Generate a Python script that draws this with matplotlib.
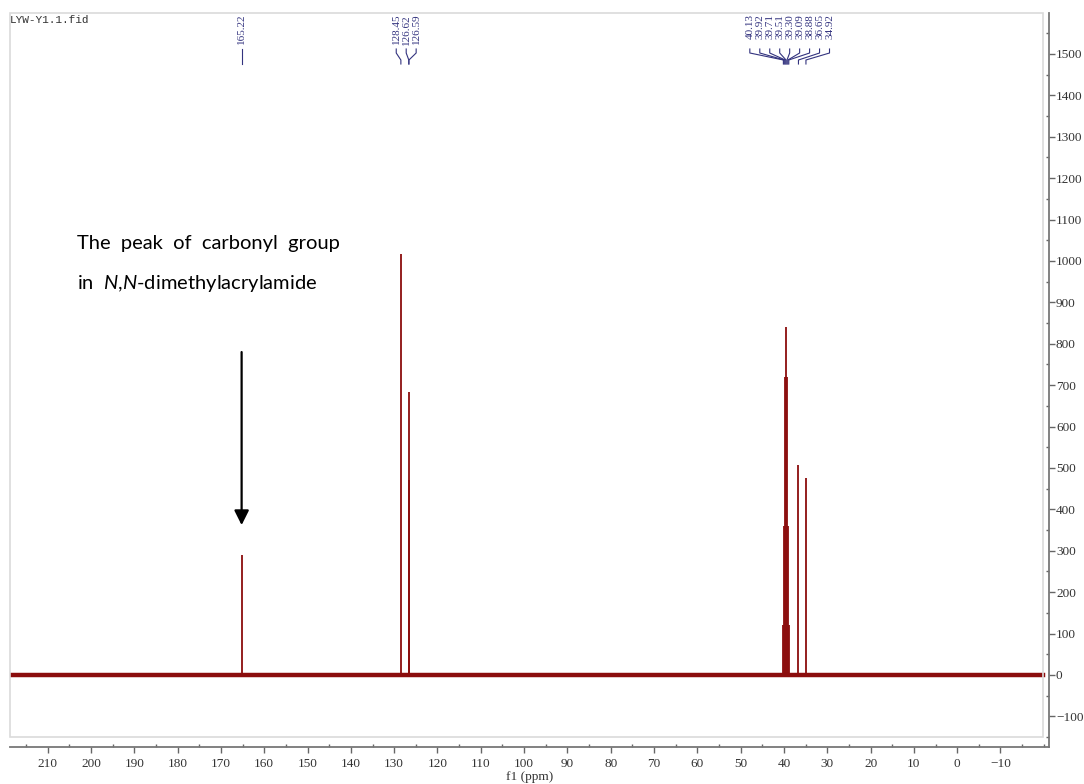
import matplotlib
matplotlib.use('Agg')
import matplotlib.pyplot as plt
from matplotlib.patches import Rectangle
from matplotlib.lines import Line2D
from matplotlib.transforms import blended_transform_factory
from matplotlib.ticker import MultipleLocator

# 13C spectrum peaks (ppm, intensity)
peak_ppm = [165.22, 128.45, 126.62, 126.59, 40.13, 39.92, 39.71, 39.51,
            39.30, 39.09, 38.88, 36.65, 34.92]
peak_height = [290, 1017, 470, 683, 120, 360, 720, 840, 720, 360, 120, 507, 476]

# peak-pick label groups
label_groups = [[165.22],
                [128.45, 126.62, 126.59],
                [40.13, 39.92, 39.71, 39.51, 39.30, 39.09, 38.88, 36.65, 34.92]]

x_ticks = list(range(210, -20, -10))
y_ticks = list(range(-100, 1600, 100))

W, H = 1084, 784
spec_col = '#8b0d0d'
lab_col = '#33337f'
tick_font = 'Liberation Serif'


def fpos(x0, y0, x1, y1):
    return [x0 / W, 1 - y1 / H, (x1 - x0) / W, (y1 - y0) / H]


fig = plt.figure(figsize=(W / 100, H / 100), dpi=100)
fig.patch.set_facecolor('white')

# light frame around the spectrum area
fig.patches.append(Rectangle((10 / W, 1 - 737 / H), (1043 - 10) / W, (737 - 13) / H,
                             transform=fig.transFigure, fill=False,
                             edgecolor='#dadada', lw=1.2, zorder=0))

ax = fig.add_axes(fpos(10, 13, 1049, 747))
ax.patch.set_visible(False)
ax.set_xlim(218.7, -21.2)
ax.set_ylim(-174, 1599)

# baseline + peaks
ax.axhline(0, xmin=0, xmax=(1043 - 10) / (1049 - 10), color=spec_col, lw=3.2, zorder=2)
ax.vlines(peak_ppm, 0, peak_height, color=spec_col, lw=1.3, zorder=3)

for s in ['left', 'top']:
    ax.spines[s].set_visible(False)
for s in ['bottom', 'right']:
    ax.spines[s].set_color('#777777')
    ax.spines[s].set_linewidth(1.3)

ax.set_xticks(x_ticks)
ax.set_xticklabels([str(t).replace('-', '\u2212') for t in x_ticks])
ax.xaxis.set_minor_locator(MultipleLocator(5))
ax.yaxis.tick_right()
ax.set_yticks(y_ticks)
ax.set_yticklabels([str(t).replace('-', '\u2212') for t in y_ticks])
ax.yaxis.set_minor_locator(MultipleLocator(50))
ax.tick_params(axis='x', which='major', direction='out', length=4, width=1,
               color='#666666', pad=4, labelsize=9.5, labelcolor='#333333')
ax.tick_params(axis='x', which='minor', direction='in', length=2, width=1, color='#666666')
ax.tick_params(axis='y', which='major', direction='out', length=4, width=1,
               color='#666666', pad=1, labelsize=9.5, labelcolor='#333333')
ax.tick_params(axis='y', which='minor', direction='in', length=2, width=1, color='#666666')
for lab in ax.get_xticklabels() + ax.get_yticklabels():
    lab.set_family(tick_font)

fig.text(530 / W, 1 - 777 / H, 'f1 (ppm)', ha='center', va='center',
         family=tick_font, fontsize=9.5, color='#333333')
fig.text(10 / W, 1 - 20 / H, 'LYW-Y1.1.fid', ha='left', va='center',
         family='Liberation Mono', fontsize=8, color='#333333')

# peak labels along the top with connector lines
tr = blended_transform_factory(ax.transData, fig.transFigure)
spacing = 2.3
for grp in label_groups:
    n = len(grp)
    c = sum(grp) / n
    for i, p in enumerate(grp):
        lx = c + spacing * ((n - 1) / 2 - i)
        ax.text(lx, 1 - 14 / H, '%.2f' % p, rotation=90, ha='center', va='top',
                fontsize=8, family=tick_font, color=lab_col, transform=tr)
        ys = [1 - 49 / H, 1 - 53 / H, 1 - 60 / H, 1 - 64 / H]
        ax.add_line(Line2D([lx, lx, p, p], ys, transform=tr, color=lab_col,
                           lw=0.8, clip_on=False))

# annotation for the carbonyl peak
plt.rcParams['mathtext.fontset'] = 'custom'
plt.rcParams['mathtext.it'] = 'Lato:italic'
plt.rcParams['mathtext.rm'] = 'Lato'
fig.text(77 / W, 1 - 244 / H, 'The  peak  of  carbonyl  group', ha='left', va='center',
         family='Lato', fontsize=14.5, color='black')
fig.text(77 / W, 1 - 283 / H, r'in  $\mathit{N}$,$\mathit{N}$-dimethylacrylamide', ha='left',
         va='center', family='Lato', fontsize=14.5, color='black')
ax.annotate('', xy=(peak_ppm[0], 362), xytext=(peak_ppm[0], 780),
            arrowprops=dict(arrowstyle='-|>', color='black', lw=1.6,
                            mutation_scale=22, shrinkA=0, shrinkB=0))

fig.savefig('out.png', dpi=100)
